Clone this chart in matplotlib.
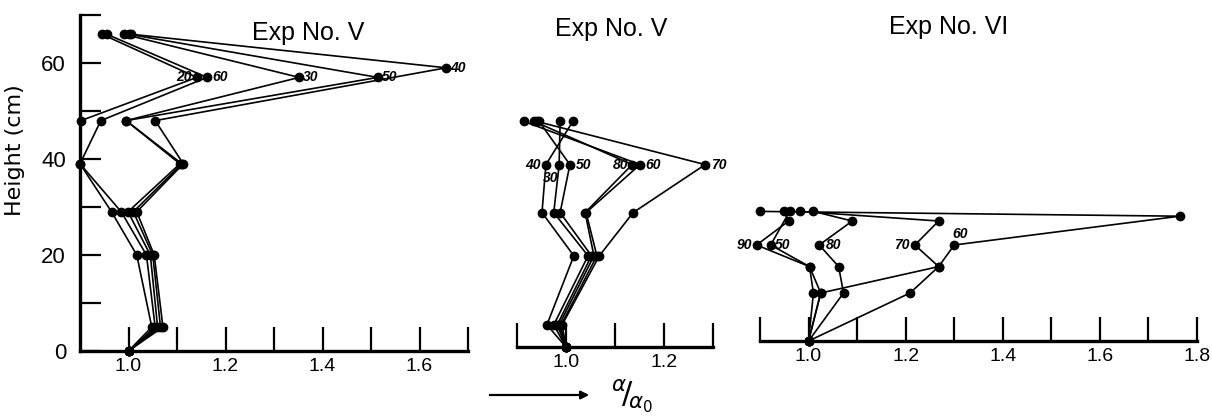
import matplotlib
matplotlib.use('Agg')
import matplotlib.pyplot as plt
from matplotlib.patches import FancyArrowPatch

# ---------------- data ----------------
# Left panel  (Exp No. V) : heights (cm) and alpha/alpha0 for each time label
p1_heights = [0, 5, 20, 29, 39, 48, 57, 66]
p1_t40_heights = [0, 5, 20, 29, 39, 48, 59, 66]
p1_t20 = [1.00, 1.048, 1.017, 0.965, 0.900, 0.902, 1.141, 0.945]
p1_t60 = [1.00, 1.055, 1.037, 0.985, 0.900, 0.943, 1.162, 0.955]
p1_t30 = [1.00, 1.060, 1.045, 0.999, 1.106, 0.995, 1.352, 0.990]
p1_t50 = [1.00, 1.066, 1.050, 1.010, 1.110, 0.995, 1.514, 1.000]
p1_t40 = [1.00, 1.071, 1.053, 1.017, 1.113, 1.055, 1.655, 1.005]

# Middle panel (Exp No. V)
p2_heights = [0, 4.6, 19, 28, 38, 47]
p2_t40 = [1.00, 0.961, 1.016, 0.951, 0.959, 1.014]
p2_t30 = [1.00, 0.975, 1.045, 0.975, 0.986, 0.988]
p2_t50 = [1.00, 0.982, 1.052, 0.988, 1.008, 0.945]
p2_t80 = [1.00, 0.986, 1.057, 1.039, 1.135, 0.935]
p2_t60 = [1.00, 0.990, 1.063, 1.041, 1.151, 0.914]
p2_t70 = [1.00, 0.992, 1.068, 1.137, 1.284, 0.940]

# Right panel (Exp No. VI)
p3_heights = [0, 10, 15.5, 20, 25, 27]
p3_t60_heights = [0, 10, 15.5, 20, 26, 27]
p3_t50_heights = [0, 10, 15.5, 20, 27]
p3_t90 = [1.00, 1.010, 1.002, 0.893, 0.959, 0.949]
p3_t50 = [1.00, 1.025, 1.002, 0.922, 0.961]
p3_t80 = [1.00, 1.072, 1.062, 1.022, 1.090, 1.010]
p3_t70 = [1.00, 1.209, 1.268, 1.219, 1.268, 0.982]
p3_t60 = [1.00, 1.025, 1.268, 1.300, 1.764, 0.900]

# tick values
p1_xmajor = [1.0, 1.2, 1.4, 1.6]
p1_xminor = [1.1, 1.3, 1.5, 1.7]
p1_ymajor = [0, 20, 40, 60]
p1_yminor = [10, 30, 50, 70]
p2_xmajor = [1.0, 1.2]
p2_xminor = [0.9, 1.1, 1.3]
p3_xmajor = [1.0, 1.2, 1.4, 1.6, 1.8]
p3_xminor = [0.9, 1.1, 1.3, 1.5, 1.7]

titles = ['Exp No. V', 'Exp No. V', 'Exp No. VI']

# ---------------- figure ----------------
W, H = 1212, 416
fig = plt.figure(figsize=(W / 100, H / 100), dpi=100)
fig.patch.set_facecolor('white')
NARROW = ['Liberation Sans', 'DejaVu Sans']
PXCM = 4.8


def make_ax(x0, x1, xmin, xmax, base_px, top_cm=70):
    ax = fig.add_axes([x0 / W, (H - base_px) / H, (x1 - x0) / W, top_cm * PXCM / H])
    ax.set_xlim(xmin, xmax)
    ax.set_ylim(0, top_cm)
    ax.patch.set_alpha(0)
    for s in ('top', 'right'):
        ax.spines[s].set_visible(False)
    ax.spines['bottom'].set_linewidth(2.4)
    ax.spines['left'].set_linewidth(2.4)
    ax.tick_params(axis='x', which='both', direction='in', length=17, width=1.6,
                   pad=5, labelsize=14)
    return ax


def series(ax, xs, hs, label=None, li=None, off=(0, 0), ha='left', lw=1.2):
    ax.plot(xs, hs, '-', color='black', lw=lw, marker='o', ms=6,
            markerfacecolor='black', markeredgecolor='black', clip_on=False, zorder=5)
    if label is not None:
        ax.annotate(label, (xs[li], hs[li]), xytext=off, textcoords='offset points',
                    ha=ha, va='center', fontsize=10, fontweight='bold', style='italic',
                    family=NARROW, zorder=6, annotation_clip=False)


# panel 1
ax1 = make_ax(80, 468, 0.9, 1.7, 351)
ax1.set_xticks(p1_xmajor)
ax1.set_xticklabels(['1.0', '1.2', '1.4', '1.6'], family=NARROW)
ax1.set_xticks(p1_xminor, minor=True)
ax1.set_yticks(p1_ymajor)
ax1.set_yticklabels(['0', '20', '40', '60'], family=NARROW)
ax1.set_yticks(p1_yminor, minor=True)
ax1.tick_params(axis='y', which='both', direction='in', length=15, width=1.6,
                pad=10, labelsize=16)
ax1.set_ylabel('Height (cm)', fontsize=16, family='DejaVu Sans')
ax1.yaxis.set_label_coords(-0.142, 0.5 + (351 - 150 - 168) / 336)

series(ax1, p1_t20, p1_heights, '20', 6, (-4, 0), 'right')
series(ax1, p1_t60, p1_heights, '60', 6, (4, 0), 'left')
series(ax1, p1_t30, p1_heights, '30', 6, (3, 0), 'left')
series(ax1, p1_t50, p1_heights, '50', 6, (3, 0), 'left')
series(ax1, p1_t40, p1_t40_heights, '40', 6, (3, 0), 'left')

# panel 2
ax2 = make_ax(517, 713, 0.9, 1.3, 347)
ax2.spines['left'].set_visible(False)
ax2.set_yticks([])
ax2.set_xticks(p2_xmajor)
ax2.set_xticklabels(['1.0', '1.2'], family=NARROW)
ax2.set_xticks(p2_xminor, minor=True)
series(ax2, p2_t40, p2_heights, '40', 4, (-4, 0), 'right')
series(ax2, p2_t30, p2_heights, '30', 4, (-6, -10), 'center')
series(ax2, p2_t50, p2_heights, '50', 4, (4, 0), 'left')
series(ax2, p2_t80, p2_heights, '80', 4, (-3, 0), 'right')
series(ax2, p2_t60, p2_heights, '60', 4, (4, 0), 'left')
series(ax2, p2_t70, p2_heights, '70', 4, (4, 0), 'left')

# panel 3
ax3 = make_ax(760, 1197, 0.9, 1.8, 341)
ax3.spines['left'].set_visible(False)
ax3.set_yticks([])
ax3.set_xticks(p3_xmajor)
ax3.set_xticklabels(['1.0', '1.2', '1.4', '1.6', '1.8'], family=NARROW)
ax3.set_xticks(p3_xminor, minor=True)
series(ax3, p3_t90, p3_heights, '90', 3, (-3, 0), 'right')
series(ax3, p3_t50, p3_t50_heights, '50', 3, (3, 0), 'left')
series(ax3, p3_t80, p3_heights, '80', 3, (5, 0), 'left')
series(ax3, p3_t70, p3_heights, '70', 3, (-4, 0), 'right')
series(ax3, p3_t60, p3_t60_heights, '60', 3, (4, 8), 'center')

# titles
for (xc, yb), t in zip([(308, 40), (611, 36), (949, 34)], titles):
    fig.text(xc / W, 1 - yb / H, t, ha='center', va='baseline', fontsize=18,
             family=NARROW)

# x-axis caption with arrow
fig.add_artist(FancyArrowPatch((487 / W, 1 - 395 / H), (592 / W, 1 - 395 / H),
                               transform=fig.transFigure, arrowstyle='-|>',
                               mutation_scale=12, lw=1.6, color='black'))
fig.text(632 / W, 1 - 396 / H, r'$^{\alpha}\!/_{\!\alpha_0}$', ha='center', va='center',
         fontsize=22)

fig.savefig('out.png', dpi=100, facecolor='white')
